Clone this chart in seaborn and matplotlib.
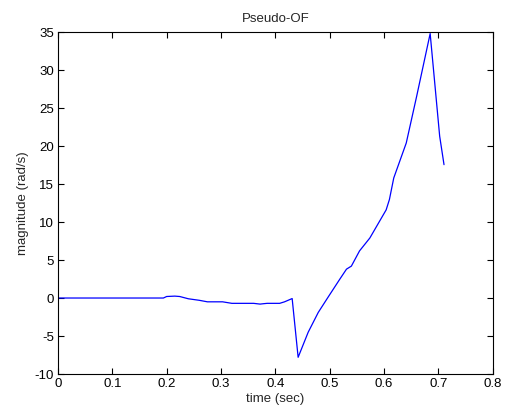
import matplotlib
matplotlib.use("Agg")
import matplotlib.pyplot as plt
import seaborn as sns
import pandas as pd

time_sec = [0.0, 0.194, 0.200, 0.215, 0.224, 0.240, 0.260, 0.275, 0.303, 0.320,
            0.360, 0.372, 0.378, 0.385, 0.408, 0.417, 0.431, 0.442, 0.4605, 0.479,
            0.497, 0.5185, 0.531, 0.540, 0.555, 0.574, 0.604, 0.610, 0.618, 0.641,
            0.660, 0.685, 0.7025, 0.7105]
magnitude = [0.0, 0.0, 0.2, 0.25, 0.2, -0.1, -0.3, -0.5, -0.5, -0.7,
             -0.7, -0.8, -0.75, -0.7, -0.7, -0.5, -0.07, -7.8, -4.5, -1.9,
             0.1, 2.46, 3.8, 4.2, 6.2, 7.9, 11.6, 12.96, 15.8, 20.4,
             26.5, 34.8, 21.3, 17.55]
x_ticks = [0, 0.1, 0.2, 0.3, 0.4, 0.5, 0.6, 0.7, 0.8]
x_tick_labels = ["0", "0.1", "0.2", "0.3", "0.4", "0.5", "0.6", "0.7", "0.8"]
y_ticks = [-10, -5, 0, 5, 10, 15, 20, 25, 30, 35]

sns.set_style("white")
plt.rcParams['font.family'] = ['Liberation Sans', 'DejaVu Sans']
plt.rcParams['font.size'] = 9.5
plt.rcParams['axes.unicode_minus'] = False

df = pd.DataFrame({"time": time_sec, "mag": magnitude})

fig = plt.figure(figsize=(5.06, 4.11), dpi=100)
ax = fig.add_axes([0.1146, 0.090, 0.859, 0.832])
sns.lineplot(data=df, x="time", y="mag", sort=False, estimator=None,
             color=(0, 0, 1), linewidth=0.9, ax=ax)

ax.set_xlim(0, 0.8)
ax.set_ylim(-10, 35)
ax.set_xticks(x_ticks)
ax.set_xticklabels(x_tick_labels)
ax.set_yticks(y_ticks)
ax.tick_params(direction="in", length=4, width=0.8, colors="black",
               top=True, right=True, bottom=True, left=True, labelsize=9.5, pad=3)
for s in ax.spines.values():
    s.set_visible(True)
    s.set_color("black")
    s.set_linewidth(0.8)
ax.set_xlabel("time (sec)", fontsize=9.5, labelpad=2)
ax.set_ylabel("magnitude (rad/s)", fontsize=9.5, labelpad=4)
ax.set_title("Pseudo-OF", fontsize=9.5, pad=7)

fig.savefig("out.png", dpi=100, facecolor="white")
